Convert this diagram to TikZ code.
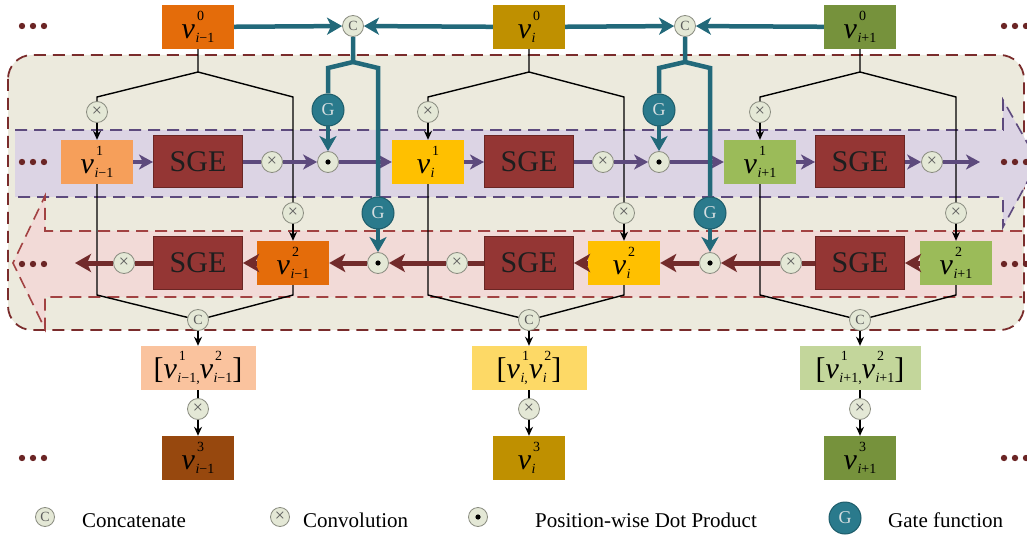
\documentclass[tikz,border=0pt]{standalone}
\usepackage{fontspec}
\setmainfont{Liberation Serif}
\usetikzlibrary{arrows.meta, positioning, calc}
\usepackage{xcolor}
\definecolor{orgdark}{HTML}{E46C0A}
\definecolor{orglight}{HTML}{F69F5A}
\definecolor{orgpale}{HTML}{FAC39E}
\definecolor{orgbrown}{HTML}{97480E}
\definecolor{golddark}{HTML}{BF9000}
\definecolor{goldlight}{HTML}{FFC000}
\definecolor{goldpale}{HTML}{FDD966}
\definecolor{grndark}{HTML}{76923C}
\definecolor{grnlight}{HTML}{9BBB59}
\definecolor{grnpale}{HTML}{C3D69B}
\definecolor{sgered}{HTML}{943634}
\definecolor{sgeline}{HTML}{6A2624}
\definecolor{tealc}{HTML}{22697A}
\definecolor{gatefill}{HTML}{2A7A8C}
\definecolor{gateline}{HTML}{1D5C6A}
\definecolor{gatetext}{HTML}{D5DEE0}
\definecolor{purc}{HTML}{5D4A7D}
\definecolor{redc}{HTML}{722B2B}
\definecolor{opfill}{HTML}{E4E8D6}
\definecolor{opline}{HTML}{8A8C80}
\definecolor{outerfill}{HTML}{ECEADD}
\definecolor{outerline}{HTML}{7A2C2C}
\definecolor{purfill}{HTML}{DCD4E4}
\definecolor{purline}{HTML}{7F6CA8}
\definecolor{pinkfill}{HTML}{F2DAD7}
\definecolor{pinkline}{HTML}{A24242}
\definecolor{dotc}{HTML}{6B2525}
\definecolor{black90}{HTML}{1E1E1E}
\definecolor{black70}{HTML}{5C5C5C}

% v with stacked super- and subscript
\newcommand{\vv}[2]{\textit{v}\kern0.5pt\raisebox{-4pt}{\fontsize{14}{14}\selectfont\ooalign{\kern1.5pt\raisebox{22pt}{#1}\cr#2\cr}}}
\newcommand{\subm}{\textit{i}−1}
\newcommand{\subz}{\textit{i}}
\newcommand{\subp}{\textit{i}+1}

\begin{document}
\begin{tikzpicture}[
    x=1pt, y=-1pt,
    >=Stealth,
    vbox/.style={
        minimum width=72pt,
        minimum height=44pt,
        inner sep=0pt,
        font=\fontsize{30}{30}\selectfont,
        text=black,
    },
    sgebox/.style={
        draw=sgeline,
        line width=1pt,
        fill=sgered,
        minimum width=89pt,
        minimum height=52pt,
        inner sep=0pt,
        font=\fontsize{30}{30}\selectfont,
        text=black90,
    },
    op/.style={
        circle,
        draw=opline,
        line width=0.8pt,
        fill=opfill,
        minimum size=21pt,
        inner sep=0pt,
    },
    conv/.style={op, font=\fontsize{18}{18}\selectfont, text=black70},
    cat/.style={op, font=\fontsize{14}{14}\selectfont, text=black70},
    dotp/.style={op, path picture={
        \fill[black] (path picture bounding box.center) circle (2.6pt);}},
    gate/.style={
        circle,
        fill=gatefill,
        draw=gateline,
        line width=1pt,
        minimum size=32pt,
        inner sep=0pt,
        font=\fontsize{18}{18}\selectfont,
        text=gatetext,
    },
    lbl/.style={font=\fontsize{21}{21}\selectfont, inner sep=0pt, anchor=base west},
    tree/.style={line width=1.4pt, black},
    treearr/.style={tree, -{Stealth[length=9pt, width=8pt]}},
    tealline/.style={line width=4.5pt, tealc},
    tealarr/.style={tealline, -{Stealth[length=15pt, width=17pt, inset=4pt]}},
    purline/.style={line width=4pt, purc},
    purarr/.style={purline, -{Stealth[length=14pt, width=15pt, inset=4pt]}},
    redline/.style={line width=5pt, redc},
    redarr/.style={redline, -{Stealth[length=16pt, width=18pt, inset=4pt]}},
    banddash/.style={line width=1.6pt, dash pattern=on 12pt off 7pt},
]
\useasboundingbox (0,0) rectangle (1027,537);
\clip (0,0) rectangle (1027,537);

% --- Background regions ---
\draw[outerline, fill=outerfill, banddash, line width=1.8pt, rounded corners=24pt]
    (8,55) rectangle (1024,330);
\fill[purfill] (15,130) -- (1003,130) -- (1003,100) -- (1038,162)
    -- (1003,227) -- (1003,197) -- (15,197) -- cycle;
\draw[purline, banddash] (15,130) -- (1003,130) -- (1003,100) -- (1038,162)
    -- (1003,227) -- (1003,197) -- (15,197);
\fill[pinkfill] (1022,231) -- (45,231) -- (45,196) -- (13,263)
    -- (45,329) -- (45,297) -- (1022,297) -- cycle;
\draw[pinkline, banddash] (1022,231) -- (45,231) -- (45,196) -- (13,263)
    -- (45,329) -- (45,297) -- (1022,297);

% --- Column i-1 ---
\node[vbox, fill=orgdark] (v0a) at (198,27) {\vv{0}{\subm}};
\node[conv] (xta) at (97,112) {×};
\node[vbox, fill=orglight] (v1a) at (97,162) {\vv{1}{\subm}};
\node[sgebox] (s1a) at (198,162) {SGE};
\node[conv] (x1a) at (272,162) {×};
\node[conv] (xra) at (293,213) {×};
\node[vbox, fill=orgdark] (v2a) at (293,263) {\vv{2}{\subm}};
\node[sgebox] (s2a) at (198,263) {SGE};
\node[conv] (x2a) at (124,263) {×};
\node[cat] (cba) at (198,320) {C};
\node[vbox, fill=orgpale, minimum width=115pt] (pa) at (198,368)
    {[\vv{1}{\subm,}\vv{2}{\subm}]};
\node[conv] (xba) at (198,409) {×};
\node[vbox, fill=orgbrown] (v3a) at (198,458) {\vv{3}{\subm}};

% --- Column i ---
\node[vbox, fill=golddark] (v0b) at (529,27) {\vv{0}{\subz}};
\node[conv] (xtb) at (428,112) {×};
\node[vbox, fill=goldlight] (v1b) at (428,162) {\vv{1}{\subz}};
\node[sgebox] (s1b) at (529,162) {SGE};
\node[conv] (x1b) at (603,162) {×};
\node[conv] (xrb) at (624,213) {×};
\node[vbox, fill=goldlight] (v2b) at (624,263) {\vv{2}{\subz}};
\node[sgebox] (s2b) at (529,263) {SGE};
\node[conv] (x2b) at (457,263) {×};
\node[cat] (cbb) at (529,320) {C};
\node[vbox, fill=goldpale, minimum width=115pt] (pb) at (529,368)
    {[\vv{1}{\subz,}\vv{2}{\subz}]};
\node[conv] (xbb) at (529,409) {×};
\node[vbox, fill=golddark] (v3b) at (529,458) {\vv{3}{\subz}};

% --- Column i+1 ---
\node[vbox, fill=grndark] (v0c) at (860,27) {\vv{0}{\subp}};
\node[conv] (xtc) at (760,112) {×};
\node[vbox, fill=grnlight] (v1c) at (760,162) {\vv{1}{\subp}};
\node[sgebox] (s1c) at (860,162) {SGE};
\node[conv] (x1c) at (932,162) {×};
\node[conv] (xrc) at (956,213) {×};
\node[vbox, fill=grnlight] (v2c) at (956,263) {\vv{2}{\subp}};
\node[sgebox] (s2c) at (860,263) {SGE};
\node[conv] (x2c) at (791,263) {×};
\node[cat] (cbc) at (860,320) {C};
\node[vbox, fill=grnpale, minimum width=121pt] (pc) at (860,368)
    {[\vv{1}{\subp,}\vv{2}{\subp}]};
\node[conv] (xbc) at (860,409) {×};
\node[vbox, fill=grndark] (v3c) at (860,458) {\vv{3}{\subp}};

% --- Gates between columns ---
\node[cat] (cta) at (353,26) {C};
\node[gate] (g1a) at (328,110) {G};
\node[dotp] (d1a) at (328,162) {};
\node[gate] (g2a) at (378,213) {G};
\node[dotp] (d2a) at (378,263) {};
\node[cat] (ctb) at (685,26) {C};
\node[gate] (g1b) at (659,110) {G};
\node[dotp] (d1b) at (659,162) {};
\node[gate] (g2b) at (710,213) {G};
\node[dotp] (d2b) at (710,263) {};

\coordinate (r1end) at (980,162);
\coordinate (r2end) at (75,263);

% Tree connectors of each column
\foreach \n/\cx/\lx/\rx in {a/198/97/293, b/529/428/624, c/860/760/956} {
    \draw[tree] (v0\n.south) -- (\cx,72) -- (\lx,97) -- (xt\n.north);
    \draw[tree] (\cx,72) -- (\rx,97) -- (xr\n.north);
    \draw[treearr] (xt\n) -- (v1\n.north);
    \draw[treearr] (xr\n) -- (v2\n.north);
    \draw[tree] (v1\n.south) -- (\lx,295) -- (cb\n);
    \draw[tree] (v2\n.south) -- (\rx,295) -- (cb\n);
    \draw[treearr] (cb\n) -- (p\n.north);
    \draw[tree] (p\n.south) -- (xb\n);
    \draw[treearr] (xb\n) -- (v3\n.north);
}

% Forward row
\foreach \n in {a,b,c} \draw[purarr] (v1\n) -- (s1\n);
\foreach \n/\m in {a/b, b/c} {
    \draw[purline] (s1\n) -- (x1\n);
    \draw[purarr] (x1\n) -- (d1\n);
    \draw[purarr] (d1\n) -- (v1\m);
}
\draw[purarr] (s1c) -- (x1c);
\draw[purarr] (x1c) -- (r1end);

% Backward row
\foreach \n in {a,b,c} {
    \draw[redarr] (v2\n) -- (s2\n);
    \draw[redline] (s2\n) -- (x2\n);
}
\foreach \n/\m in {b/a, c/b} \draw[redarr] (x2\n) -- (d2\m);
\foreach \n in {a,b} \draw[redarr] (d2\n) -- (v2\n);
\draw[redarr] (x2a) -- (r2end);

% Gate paths
\draw[tealarr] (v0a) -- (cta);
\draw[tealarr] (v0b) -- (cta);
\draw[tealarr] (v0b) -- (ctb);
\draw[tealarr] (v0c) -- (ctb);
\foreach \n/\jx/\lx/\rx in {a/353/328/378, b/685/659/710} {
    \draw[tealline] (ct\n.south) -- (\jx,62) -- (\lx,68) -- (g1\n.north);
    \draw[tealline] (\jx,62) -- (\rx,68) -- (g2\n.north);
    \draw[tealarr] (g1\n) -- (d1\n);
    \draw[tealarr] (g2\n) -- (d2\n);
}

% Ellipsis dots
\foreach \y in {26,162,264,458}
    \foreach \x in {22,33,44,1004,1015,1026}
        \fill[dotc] (\x,\y) circle (3.2pt);

% --- Legend ---
\node[cat, minimum size=19pt] (lgc) at (45,517) {C};
\node[lbl] (lgctxt) at (82,527) {Concatenate};
\node[conv, minimum size=19pt] (lgx) at (280,517) {×};
\node[lbl] (lgxtxt) at (303,527) {Convolution};
\node[dotp, minimum size=19pt] (lgd) at (478,517) {};
\node[lbl] (lgdtxt) at (535,527) {Position-wise Dot Product};
\node[gate] (lgg) at (845,518) {G};
\node[lbl] (lggtxt) at (888,527) {Gate function};

\end{tikzpicture}
\end{document}
